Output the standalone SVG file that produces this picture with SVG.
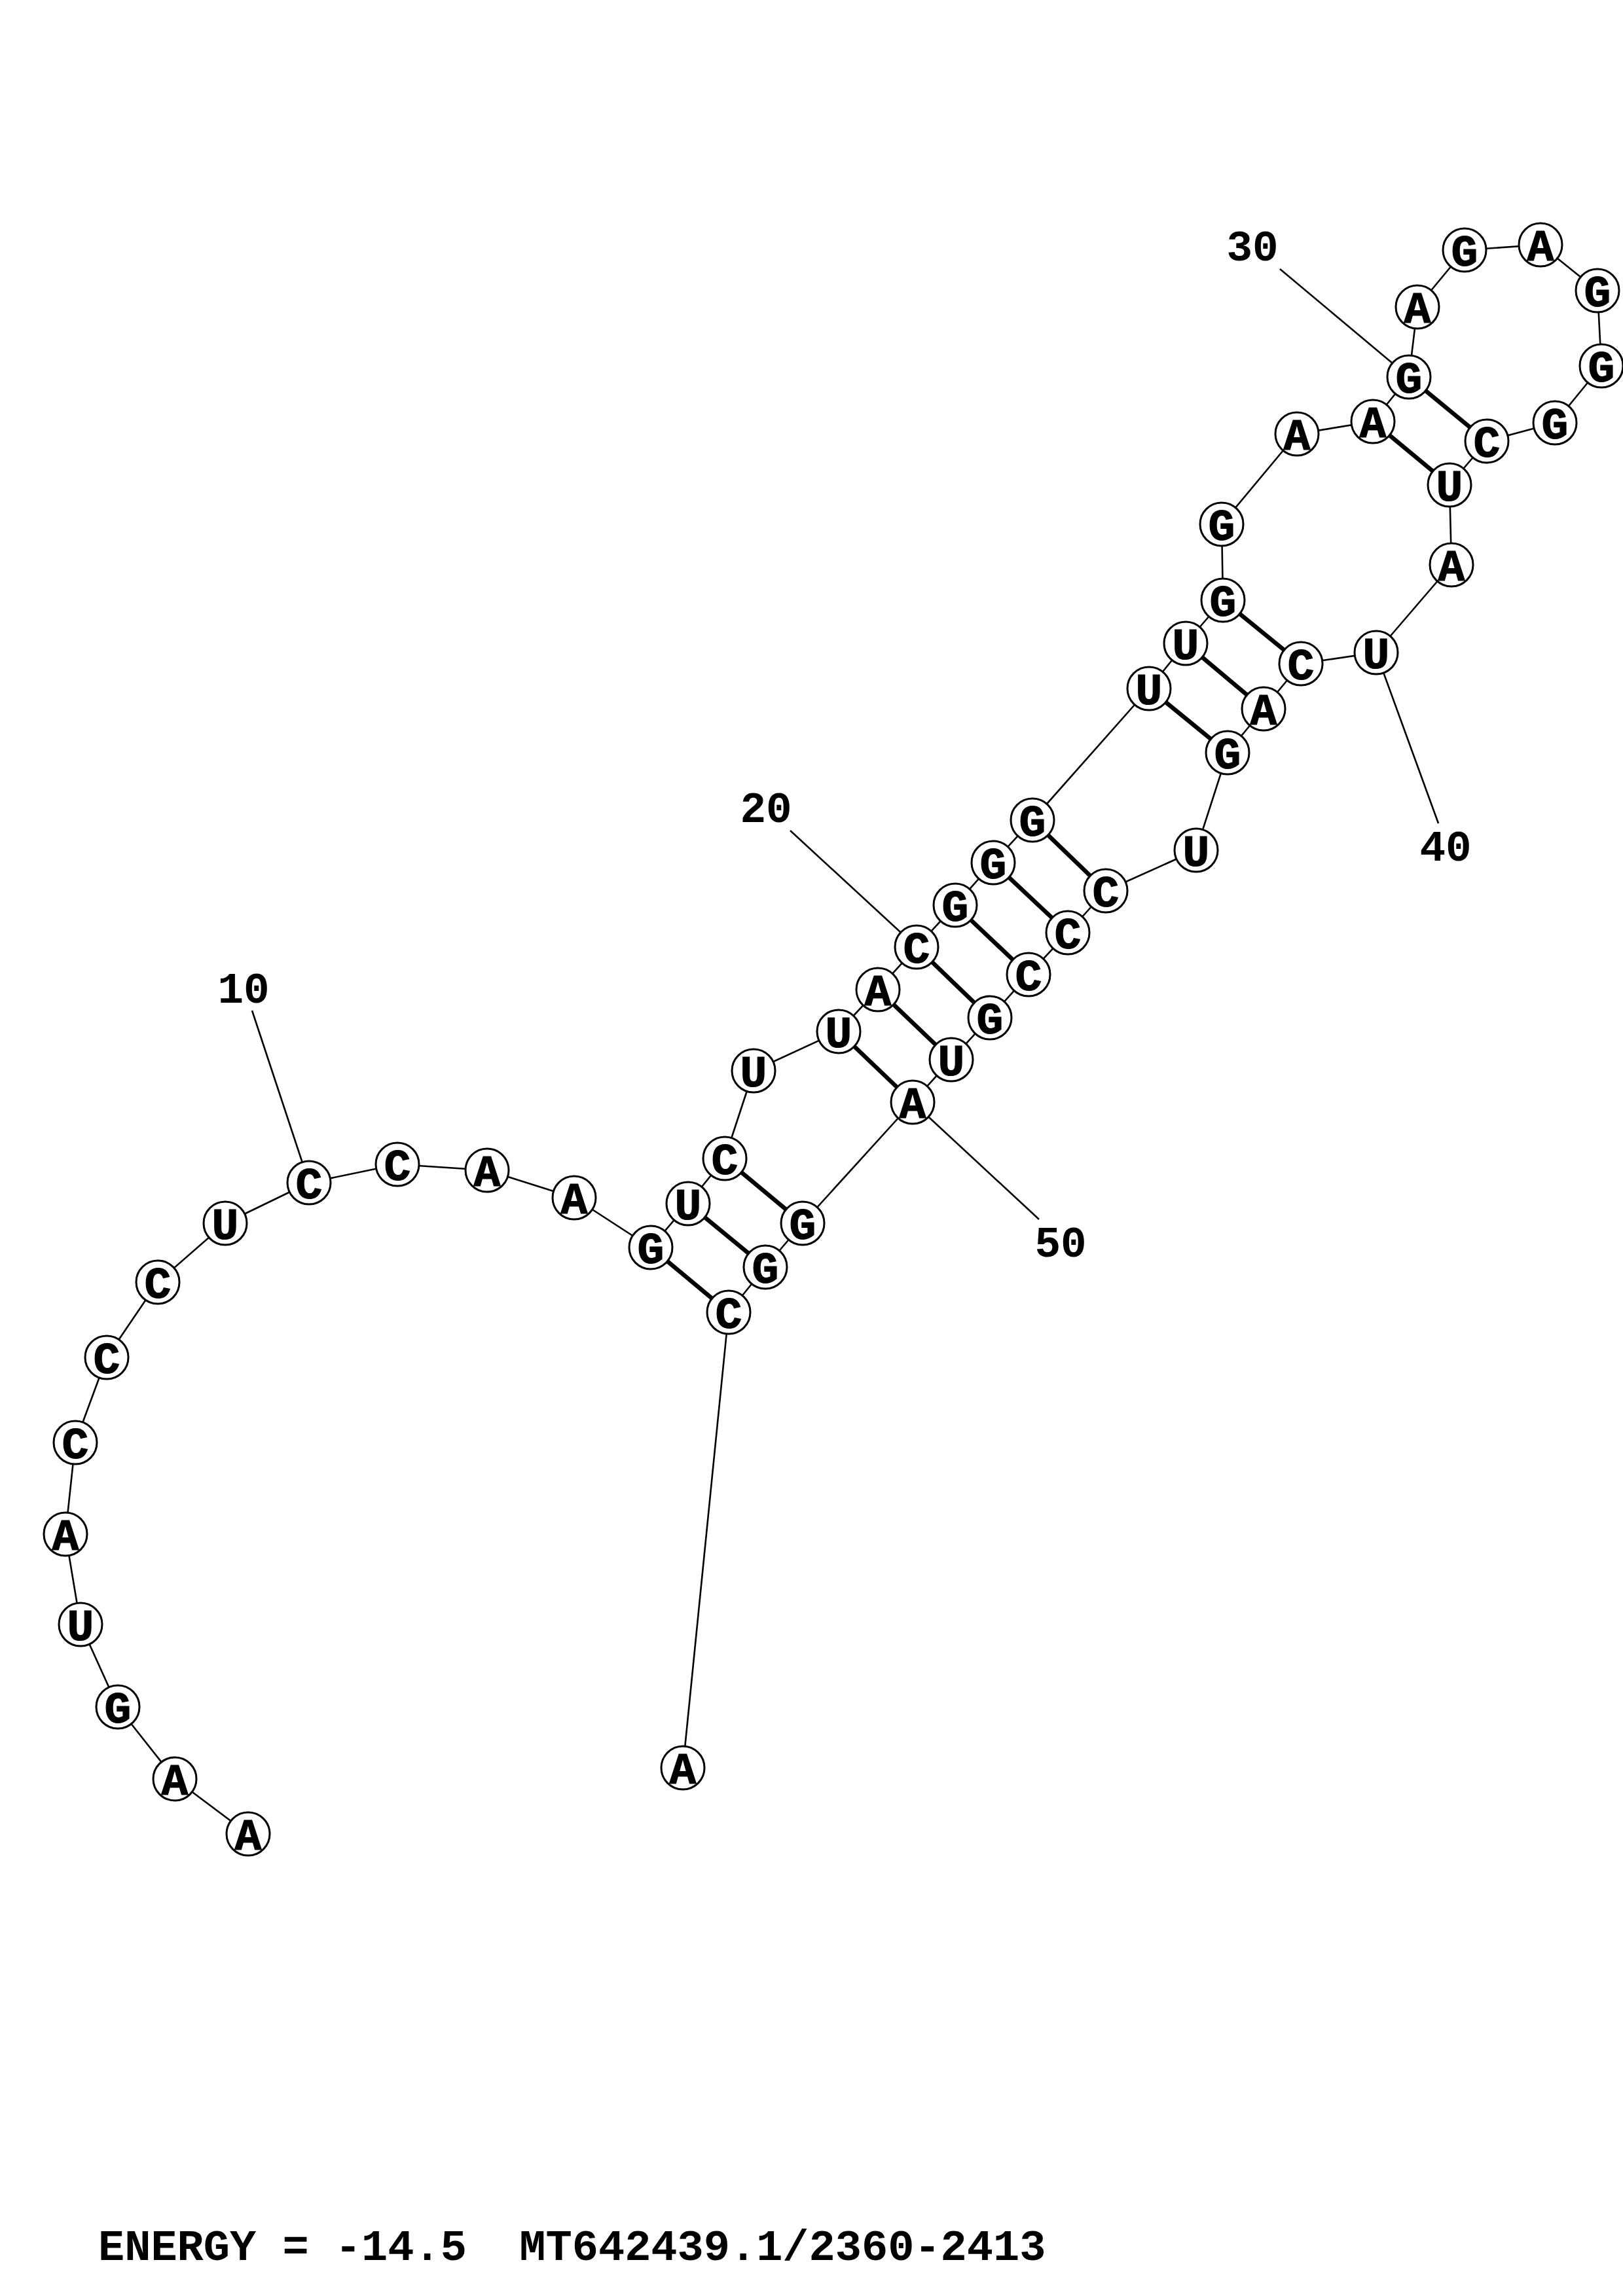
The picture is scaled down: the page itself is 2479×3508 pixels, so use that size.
<svg xmlns="http://www.w3.org/2000/svg" width="2479" height="3508" viewBox="0 0 2479 3508">
<style>
.bb{fill:none;stroke:#000;stroke-width:2.6;stroke-linejoin:round}
.pr{stroke:#000;stroke-width:6.5}
.lb{stroke:#000;stroke-width:2.6}
.nt circle{fill:#fff;stroke:#000;stroke-width:3}
text{font-family:"Liberation Mono","Courier New",monospace;font-weight:bold;font-size:66px;fill:#000}
.nt text{text-anchor:middle;font-size:68px;stroke:#000;stroke-width:1.2}
.num{text-anchor:middle}
.ttl{font-size:67px}
</style>
<rect width="2479" height="3508" fill="#fff"/>
<g id="connectors">
<polyline class="bb" points="379,2802 267,2718 180,2608 123,2482 100,2344 115,2204 163,2074 241,1959 344,1869 472,1807 607,1779 744,1788 877,1830 994,1906 1051,1839 1107,1770 1151,1636 1281,1576 1341,1512 1400,1447 1459,1383 1517,1318 1577,1253 1755,1052 1811,983 1868,917 1866,801 1981,663 2097,644 2152,576 2165,469 2237,382 2353,374 2440,444 2446,559 2375,646 2271,674 2214,741 2217,863 2102,997 1987,1014 1930,1083 1875,1150 1827,1299 1689,1361 1631,1425 1571,1489 1512,1555 1453,1619 1394,1684 1226,1869 1169,1936 1113,2005 1043,2701"/>
<line class="pr" x1="994" y1="1906" x2="1113" y2="2005"/>
<line class="pr" x1="1051" y1="1839" x2="1169" y2="1936"/>
<line class="pr" x1="1107" y1="1770" x2="1226" y2="1869"/>
<line class="pr" x1="1281" y1="1576" x2="1394" y2="1684"/>
<line class="pr" x1="1341" y1="1512" x2="1453" y2="1619"/>
<line class="pr" x1="1400" y1="1447" x2="1512" y2="1555"/>
<line class="pr" x1="1459" y1="1383" x2="1571" y2="1489"/>
<line class="pr" x1="1517" y1="1318" x2="1631" y2="1425"/>
<line class="pr" x1="1577" y1="1253" x2="1689" y2="1361"/>
<line class="pr" x1="1755" y1="1052" x2="1875" y2="1150"/>
<line class="pr" x1="1811" y1="983" x2="1930" y2="1083"/>
<line class="pr" x1="1868" y1="917" x2="1987" y2="1014"/>
<line class="pr" x1="2097" y1="644" x2="2214" y2="741"/>
<line class="pr" x1="2152" y1="576" x2="2271" y2="674"/>
<line class="lb" x1="385" y1="1544" x2="472" y2="1807"/>
<line class="lb" x1="1207" y1="1269" x2="1400" y2="1447"/>
<line class="lb" x1="1955" y1="411" x2="2152" y2="576"/>
<line class="lb" x1="2197" y1="1258" x2="2102" y2="997"/>
<line class="lb" x1="1587" y1="1863" x2="1394" y2="1684"/>
</g>
<g id="labels">
<text class="num" x="372" y="1532">10</text>
<text class="num" x="1170" y="1256">20</text>
<text class="num" x="1913" y="398">30</text>
<text class="num" x="2208" y="1315">40</text>
<text class="num" x="1620" y="1920">50</text>
</g>
<g id="n1" class="nt"><circle cx="379" cy="2802" r="33"/><text x="379" y="2826">A</text></g>
<g id="n2" class="nt"><circle cx="267" cy="2718" r="33"/><text x="267" y="2742">A</text></g>
<g id="n3" class="nt"><circle cx="180" cy="2608" r="33"/><text x="180" y="2632">G</text></g>
<g id="n4" class="nt"><circle cx="123" cy="2482" r="33"/><text x="123" y="2506">U</text></g>
<g id="n5" class="nt"><circle cx="100" cy="2344" r="33"/><text x="100" y="2368">A</text></g>
<g id="n6" class="nt"><circle cx="115" cy="2204" r="33"/><text x="115" y="2228">C</text></g>
<g id="n7" class="nt"><circle cx="163" cy="2074" r="33"/><text x="163" y="2098">C</text></g>
<g id="n8" class="nt"><circle cx="241" cy="1959" r="33"/><text x="241" y="1983">C</text></g>
<g id="n9" class="nt"><circle cx="344" cy="1869" r="33"/><text x="344" y="1893">U</text></g>
<g id="n10" class="nt"><circle cx="472" cy="1807" r="33"/><text x="472" y="1831">C</text></g>
<g id="n11" class="nt"><circle cx="607" cy="1779" r="33"/><text x="607" y="1803">C</text></g>
<g id="n12" class="nt"><circle cx="744" cy="1788" r="33"/><text x="744" y="1812">A</text></g>
<g id="n13" class="nt"><circle cx="877" cy="1830" r="33"/><text x="877" y="1854">A</text></g>
<g id="n14" class="nt"><circle cx="994" cy="1906" r="33"/><text x="994" y="1930">G</text></g>
<g id="n15" class="nt"><circle cx="1051" cy="1839" r="33"/><text x="1051" y="1863">U</text></g>
<g id="n16" class="nt"><circle cx="1107" cy="1770" r="33"/><text x="1107" y="1794">C</text></g>
<g id="n17" class="nt"><circle cx="1151" cy="1636" r="33"/><text x="1151" y="1660">U</text></g>
<g id="n18" class="nt"><circle cx="1281" cy="1576" r="33"/><text x="1281" y="1600">U</text></g>
<g id="n19" class="nt"><circle cx="1341" cy="1512" r="33"/><text x="1341" y="1536">A</text></g>
<g id="n20" class="nt"><circle cx="1400" cy="1447" r="33"/><text x="1400" y="1471">C</text></g>
<g id="n21" class="nt"><circle cx="1459" cy="1383" r="33"/><text x="1459" y="1407">G</text></g>
<g id="n22" class="nt"><circle cx="1517" cy="1318" r="33"/><text x="1517" y="1342">G</text></g>
<g id="n23" class="nt"><circle cx="1577" cy="1253" r="33"/><text x="1577" y="1277">G</text></g>
<g id="n24" class="nt"><circle cx="1755" cy="1052" r="33"/><text x="1755" y="1076">U</text></g>
<g id="n25" class="nt"><circle cx="1811" cy="983" r="33"/><text x="1811" y="1007">U</text></g>
<g id="n26" class="nt"><circle cx="1868" cy="917" r="33"/><text x="1868" y="941">G</text></g>
<g id="n27" class="nt"><circle cx="1866" cy="801" r="33"/><text x="1866" y="825">G</text></g>
<g id="n28" class="nt"><circle cx="1981" cy="663" r="33"/><text x="1981" y="687">A</text></g>
<g id="n29" class="nt"><circle cx="2097" cy="644" r="33"/><text x="2097" y="668">A</text></g>
<g id="n30" class="nt"><circle cx="2152" cy="576" r="33"/><text x="2152" y="600">G</text></g>
<g id="n31" class="nt"><circle cx="2165" cy="469" r="33"/><text x="2165" y="493">A</text></g>
<g id="n32" class="nt"><circle cx="2237" cy="382" r="33"/><text x="2237" y="406">G</text></g>
<g id="n33" class="nt"><circle cx="2353" cy="374" r="33"/><text x="2353" y="398">A</text></g>
<g id="n34" class="nt"><circle cx="2440" cy="444" r="33"/><text x="2440" y="468">G</text></g>
<g id="n35" class="nt"><circle cx="2446" cy="559" r="33"/><text x="2446" y="583">G</text></g>
<g id="n36" class="nt"><circle cx="2375" cy="646" r="33"/><text x="2375" y="670">G</text></g>
<g id="n37" class="nt"><circle cx="2271" cy="674" r="33"/><text x="2271" y="698">C</text></g>
<g id="n38" class="nt"><circle cx="2214" cy="741" r="33"/><text x="2214" y="765">U</text></g>
<g id="n39" class="nt"><circle cx="2217" cy="863" r="33"/><text x="2217" y="887">A</text></g>
<g id="n40" class="nt"><circle cx="2102" cy="997" r="33"/><text x="2102" y="1021">U</text></g>
<g id="n41" class="nt"><circle cx="1987" cy="1014" r="33"/><text x="1987" y="1038">C</text></g>
<g id="n42" class="nt"><circle cx="1930" cy="1083" r="33"/><text x="1930" y="1107">A</text></g>
<g id="n43" class="nt"><circle cx="1875" cy="1150" r="33"/><text x="1875" y="1174">G</text></g>
<g id="n44" class="nt"><circle cx="1827" cy="1299" r="33"/><text x="1827" y="1323">U</text></g>
<g id="n45" class="nt"><circle cx="1689" cy="1361" r="33"/><text x="1689" y="1385">C</text></g>
<g id="n46" class="nt"><circle cx="1631" cy="1425" r="33"/><text x="1631" y="1449">C</text></g>
<g id="n47" class="nt"><circle cx="1571" cy="1489" r="33"/><text x="1571" y="1513">C</text></g>
<g id="n48" class="nt"><circle cx="1512" cy="1555" r="33"/><text x="1512" y="1579">G</text></g>
<g id="n49" class="nt"><circle cx="1453" cy="1619" r="33"/><text x="1453" y="1643">U</text></g>
<g id="n50" class="nt"><circle cx="1394" cy="1684" r="33"/><text x="1394" y="1708">A</text></g>
<g id="n51" class="nt"><circle cx="1226" cy="1869" r="33"/><text x="1226" y="1893">G</text></g>
<g id="n52" class="nt"><circle cx="1169" cy="1936" r="33"/><text x="1169" y="1960">G</text></g>
<g id="n53" class="nt"><circle cx="1113" cy="2005" r="33"/><text x="1113" y="2029">C</text></g>
<g id="n54" class="nt"><circle cx="1043" cy="2701" r="33"/><text x="1043" y="2725">A</text></g>
<g id="title"><text class="ttl" x="150" y="3453" xml:space="preserve">ENERGY = -14.5  MT642439.1/2360-2413</text></g>
</svg>
